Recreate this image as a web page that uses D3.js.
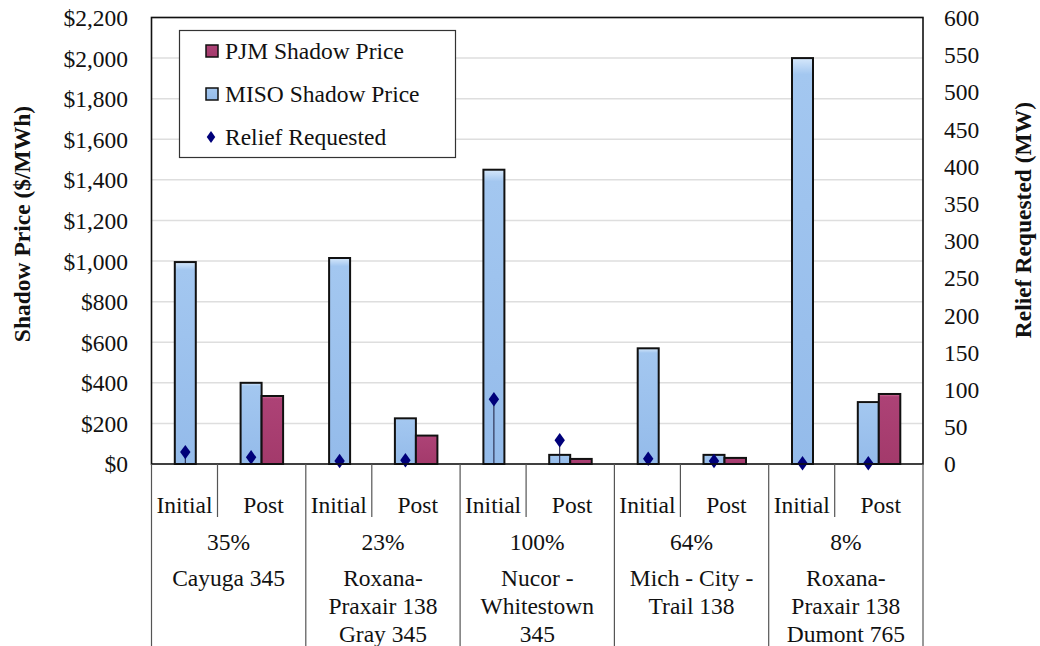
<!DOCTYPE html>
<html>
<head>
<meta charset="utf-8">
<script src="https://cdn.jsdelivr.net/npm/d3@7"></script>
<style>
  html, body { margin: 0; padding: 0; background: #fff; }
  svg { display: block; }
  svg text { font-family: "Liberation Serif", "Times New Roman", Times, "DejaVu Serif", serif; fill: #111; }
</style>
</head>
<body>
<svg id="chart" width="1040" height="646" font-family="Liberation Serif, Times New Roman, serif"></svg>
<script>
// ---- data ----
const groups = ["Cayuga", "RoxanaGray", "Nucor", "MichCity", "RoxanaDumont"];
const groupPct = ["35%", "23%", "100%", "64%", "8%"];
const groupNames = [
  ["Cayuga 345"],
  ["Roxana-", "Praxair 138", "Gray 345"],
  ["Nucor -", "Whitestown", "345"],
  ["Mich - City -", "Trail 138"],
  ["Roxana-", "Praxair 138", "Dumont 765"]
];
const phases = ["Initial", "Post"];
// values per group, [Initial, Post]
const misoPrice = [[995, 400], [1015, 225], [1450, 45], [570, 45], [2000, 305]];
const pjmPrice  = [[0, 335],   [0, 140],    [0, 25],    [0, 30],   [0, 345]];
const reliefMW  = [[16, 9],    [4, 5],      [87, 32],   [7, 4],    [1, 1]];
const leftTicks = [0, 200, 400, 600, 800, 1000, 1200, 1400, 1600, 1800, 2000, 2200];
const rightTicks = [0, 50, 100, 150, 200, 250, 300, 350, 400, 450, 500, 550, 600];
const legendItems = ["PJM Shadow Price", "MISO Shadow Price", "Relief Requested"];

// ---- layout ----
const svg = d3.select("#chart");
const FONT = '"Liberation Serif", "Times New Roman", Times, "DejaVu Serif", serif';
const L = 151.5, R = 923, T = 17.5, B = 464;
const FS = 23.5;

const x0 = d3.scaleBand().domain(groups).range([L, R]).padding(0);
const xSub = d3.scalePoint().domain(phases).range([33.8, 99.6]);
const yL = d3.scaleLinear().domain([0, 2200]).range([B, T]);
const yR = d3.scaleLinear().domain([0, 600]).range([B, T]);
const barW = 21;

// gradients
const defs = svg.append("defs");
function grad(id, top, mid, bot) {
  const g = defs.append("linearGradient").attr("id", id).attr("x1", 0).attr("y1", 0).attr("x2", 0).attr("y2", 1);
  g.append("stop").attr("offset", "0%").attr("stop-color", top);
  g.append("stop").attr("offset", "4%").attr("stop-color", mid);
  g.append("stop").attr("offset", "100%").attr("stop-color", bot);
}
grad("gMiso", "#d6e8fb", "#a3c7f0", "#94bbea");
grad("gPjm", "#d77aa0", "#ad4276", "#a33a6b");

// gridlines
svg.append("g").selectAll("line").data(leftTicks.slice(1)).join("line")
  .attr("x1", L).attr("x2", R)
  .attr("y1", d => yL(d)).attr("y2", d => yL(d))
  .attr("stroke", "#dedede").attr("stroke-width", 1.5);

// left axis labels
const fmt = d3.format(",");
svg.append("g").selectAll("text").data(leftTicks).join("text")
  .attr("x", 128).attr("y", d => yL(d)).attr("dy", "0.36em")
  .attr("text-anchor", "end").attr("font-size", FS)
  .text(d => "$" + fmt(d));

// right axis labels
svg.append("g").selectAll("text").data(rightTicks).join("text")
  .attr("x", 944).attr("y", d => yR(d)).attr("dy", "0.36em")
  .attr("text-anchor", "start").attr("font-size", FS)
  .text(d => d);

// axis titles
svg.append("text")
  .attr("transform", `translate(30,${224}) rotate(-90)`)
  .attr("text-anchor", "middle").attr("font-size", FS).attr("font-weight", "bold")
  .text("Shadow Price ($/MWh)");
svg.append("text")
  .attr("transform", `translate(1031,${220}) rotate(-90)`)
  .attr("text-anchor", "middle").attr("font-size", FS).attr("font-weight", "bold")
  .text("Relief Requested (MW)");

// flatten data
const rows = [];
groups.forEach((g, gi) => phases.forEach((p, pi) => {
  rows.push({ g, p, miso: misoPrice[gi][pi], pjm: pjmPrice[gi][pi], relief: reliefMW[gi][pi] });
}));
const cx = d => x0(d.g) + xSub(d.p);

// bars
const bars = svg.append("g");
bars.selectAll("rect.miso").data(rows.filter(d => d.miso > 0)).join("rect")
  .attr("class", "miso")
  .attr("x", d => cx(d) - barW / 2).attr("width", barW)
  .attr("y", d => yL(d.miso)).attr("height", d => B - yL(d.miso))
  .attr("fill", "url(#gMiso)").attr("stroke", "#111").attr("stroke-width", 2);
bars.selectAll("rect.pjm").data(rows.filter(d => d.pjm > 0)).join("rect")
  .attr("class", "pjm")
  .attr("x", d => cx(d) + barW / 2).attr("width", barW + 0.5)
  .attr("y", d => yL(d.pjm)).attr("height", d => B - yL(d.pjm))
  .attr("fill", "url(#gPjm)").attr("stroke", "#111").attr("stroke-width", 2);

// drop lines + diamonds for relief
const pts = svg.append("g");
pts.selectAll("line").data(rows).join("line")
  .attr("x1", cx).attr("x2", cx)
  .attr("y1", d => yR(d.relief)).attr("y2", B)
  .attr("stroke", "#1a1a3a").attr("stroke-width", 1);
const diamond = d3.symbol().type(d3.symbolDiamond).size(60);
pts.selectAll("path").data(rows).join("path")
  .attr("d", diamond)
  .attr("transform", d => `translate(${cx(d)},${yR(d.relief)}) scale(1.25,1)`)
  .attr("fill", "#00007a");

// plot frame
svg.append("rect").attr("x", L).attr("y", T).attr("width", R - L).attr("height", B - T)
  .attr("fill", "none").attr("stroke", "#111").attr("stroke-width", 1.6);

// category axis: separators
const catG = svg.append("g");
const bounds = groups.map(g => x0(g)).concat([R]);
catG.selectAll("line.gb").data(bounds).join("line").attr("class", "gb")
  .attr("x1", d => d).attr("x2", d => d).attr("y1", B).attr("y2", 646)
  .attr("stroke", "#555").attr("stroke-width", 1.2);
catG.selectAll("line.sb").data(groups).join("line").attr("class", "sb")
  .attr("x1", g => x0(g) + 66).attr("x2", g => x0(g) + 66).attr("y1", B).attr("y2", 517)
  .attr("stroke", "#555").attr("stroke-width", 1.2);

// phase labels
catG.selectAll("text.ph").data(rows).join("text").attr("class", "ph")
  .attr("x", d => d.p === "Initial" ? x0(d.g) + 33 : x0(d.g) + 112)
  .attr("y", 513).attr("text-anchor", "middle").attr("font-size", FS)
  .text(d => d.p);

// percentage labels
catG.selectAll("text.pct").data(groups).join("text").attr("class", "pct")
  .attr("x", g => x0(g) + x0.bandwidth() / 2).attr("y", 550)
  .attr("text-anchor", "middle").attr("font-size", FS)
  .text((g, i) => groupPct[i]);

// name labels
groups.forEach((g, gi) => {
  catG.append("g").selectAll("text").data(groupNames[gi]).join("text")
    .attr("x", x0(g) + x0.bandwidth() / 2)
    .attr("y", (d, li) => 586 + li * 28)
    .attr("text-anchor", "middle").attr("font-size", FS)
    .text(d => d);
});

// legend
const lg = svg.append("g");
lg.append("rect").attr("x", 179.5).attr("y", 30.5).attr("width", 276).attr("height", 127)
  .attr("fill", "#fff").attr("stroke", "#333").attr("stroke-width", 1.2);
const ly = [51, 94, 137];
lg.append("rect").attr("x", 206).attr("y", ly[0] - 6).attr("width", 12).attr("height", 12)
  .attr("fill", "url(#gPjm)").attr("stroke", "#111").attr("stroke-width", 1.5);
lg.append("rect").attr("x", 206).attr("y", ly[1] - 6).attr("width", 12).attr("height", 12)
  .attr("fill", "url(#gMiso)").attr("stroke", "#111").attr("stroke-width", 1.5);
lg.append("path").attr("d", d3.symbol().type(d3.symbolDiamond).size(40))
  .attr("transform", `translate(211,${ly[2]}) scale(1.25,1)`).attr("fill", "#00007a");
lg.selectAll("text").data(legendItems).join("text")
  .attr("x", 225).attr("y", (d, i) => ly[i]).attr("dy", "0.36em")
  .attr("font-size", FS).text(d => d);

svg.selectAll("text").attr("font-family", FONT);
</script>
</body>
</html>
